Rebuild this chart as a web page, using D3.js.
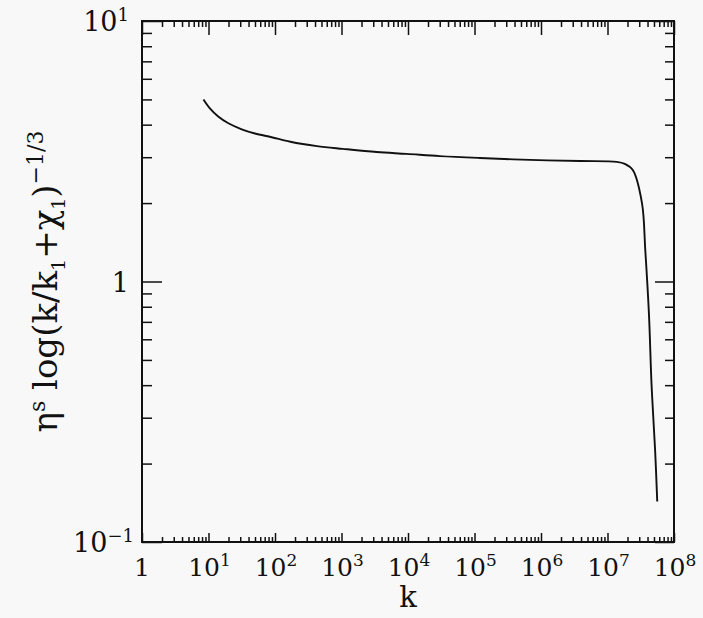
<!DOCTYPE html>
<html>
<head>
<meta charset="utf-8">
<script src="https://cdn.jsdelivr.net/npm/d3@7"></script>
<style>
  body { margin: 0; background: #f8f8f8; }
  svg { display: block; }
  text { font-family: "DejaVu Serif", serif; fill: #111; }
</style>
</head>
<body>
<div id="chart"></div>
<script>
// curve
const kValues = [8.4, 10.5, 14.0, 19.9, 31.6, 50, 89, 170, 427, 1050, 3390, 9550, 3.0e4, 1.2e5,
                 6.8e5, 3.9e6, 1.38e7, 1.82e7, 2.4e7, 3.3e7, 3.7e7, 4.2e7, 4.6e7, 5.2e7, 5.6e7];
const etaValues = [5.00, 4.62, 4.30, 4.05, 3.84, 3.70, 3.58, 3.44, 3.31, 3.23, 3.14, 3.09, 3.03, 2.98,
                   2.93, 2.90, 2.88, 2.83, 2.68, 2.00, 1.32, 0.75, 0.40, 0.225, 0.143];
const xExponents = [0, 1, 2, 3, 4, 5, 6, 7, 8];
const yExponents = [-1, 0, 1];

let width = 703;
let height = 618;
let margin = { left: 142, right: 29, top: 21, bottom: 76 };

let svg = d3.select('#chart')
            .append('svg')
            .attr('width', width)
            .attr('height', height);

let x = d3.scaleLog().domain([1, 1e8]).range([margin.left, width - margin.right]);
let y = d3.scaleLog().domain([0.1, 10]).range([height - margin.bottom, margin.top]);

// minor ticks: 2..9 inside each decade
function minors(exps) {
    let out = [];
    for (let i = 0; i < exps.length - 1; i++) {
        for (let j = 2; j <= 9; j++) out.push(j * Math.pow(10, exps[i]));
    }
    return out;
}
let xMajor = xExponents.map(e => Math.pow(10, e));
let yMajor = yExponents.map(e => Math.pow(10, e));
let xMinor = minors(xExponents);
let yMinor = minors(yExponents);

function tickLayer(axis, vals, size, tx, ty) {
    let g = svg.append('g')
               .attr('transform', 'translate(' + tx + ',' + ty + ')')
               .call(axis.tickValues(vals).tickSize(size).tickFormat(''));
    g.select('.domain').remove();
    g.selectAll('line').attr('stroke', '#111').attr('stroke-width', 1.5);
    return g;
}

let x0 = margin.left, x1 = width - margin.right;
let y0 = height - margin.bottom, y1 = margin.top;

// bottom
tickLayer(d3.axisBottom(x), xMinor, -5, 0, y0);
tickLayer(d3.axisBottom(x), xMajor, -9, 0, y0);
// top
tickLayer(d3.axisTop(x), xMinor, -6, 0, y1);
tickLayer(d3.axisTop(x), xMajor, -14, 0, y1);
// left
tickLayer(d3.axisLeft(y), yMinor, -10, x0, 0);
tickLayer(d3.axisLeft(y), yMajor, -20, x0, 0);
// right
tickLayer(d3.axisRight(y), yMinor, -9, x1, 0);
tickLayer(d3.axisRight(y), yMajor, -19, x1, 0);

// frame
svg.append('rect')
   .attr('x', x0).attr('y', y1)
   .attr('width', x1 - x0).attr('height', y0 - y1)
   .attr('fill', 'none')
   .attr('stroke', '#111')
   .attr('stroke-width', 2);

// curve
let pts = kValues.map((k, i) => [k, etaValues[i]]);
let line = d3.line()
             .x(d => x(d[0]))
             .y(d => y(d[1]))
             .curve(d3.curveCatmullRom.alpha(0.5));
svg.append('path')
   .datum(pts)
   .attr('d', line)
   .attr('fill', 'none')
   .attr('stroke', '#111')
   .attr('stroke-width', 1.9)
   .attr('stroke-linejoin', 'round');

// power label helper
function powLabel(sel, e, supSize) {
    if (e === 0) {
        sel.append('tspan').text('1');
        return;
    }
    sel.append('tspan').text('10');
    sel.append('tspan')
       .attr('dy', -10)
       .style('font-size', supSize)
       .text(e < 0 ? '\u2212' + (-e) : String(e));
}

// x tick labels
svg.append('g')
   .selectAll('text')
   .data(xExponents)
   .enter()
   .append('text')
   .attr('x', d => x(Math.pow(10, d)) + (d === 0 ? 0 : 1))
   .attr('y', y0 + 34)
   .attr('text-anchor', 'middle')
   .style('font-size', '25px')
   .each(function(d) { powLabel(d3.select(this), d, '17px'); });

// y tick labels
svg.append('g')
   .selectAll('text')
   .data(yExponents)
   .enter()
   .append('text')
   .attr('x', d => x0 - (d < 0 ? 8 : 13))
   .attr('y', d => y(Math.pow(10, d)) + 10)
   .attr('text-anchor', 'end')
   .style('font-size', '27px')
   .each(function(d) { powLabel(d3.select(this), d, '18px'); });

// axis titles
svg.append('text')
   .attr('x', (x0 + x1) / 2)
   .attr('y', 607)
   .attr('text-anchor', 'middle')
   .style('font-size', '29px')
   .text('k');

let yt = svg.append('text')
            .attr('transform', 'translate(57,' + ((y0 + y1) / 2) + ') rotate(-90)')
            .attr('text-anchor', 'middle')
            .style('font-size', '34px');
yt.append('tspan').text('\u03b7');
yt.append('tspan').attr('dy', -12).style('font-size', '22px').text('s');
yt.append('tspan').attr('dy', 12).text(' log(k/k');
yt.append('tspan').attr('dy', 8).style('font-size', '19px').text('1');
yt.append('tspan').attr('dy', -8).text('+\u03c7');
yt.append('tspan').attr('dy', 8).style('font-size', '19px').text('1');
yt.append('tspan').attr('dy', -8).text(')');
yt.append('tspan').attr('dy', -14).style('font-size', '22px').text('\u22121/3');
</script>
</body>
</html>
